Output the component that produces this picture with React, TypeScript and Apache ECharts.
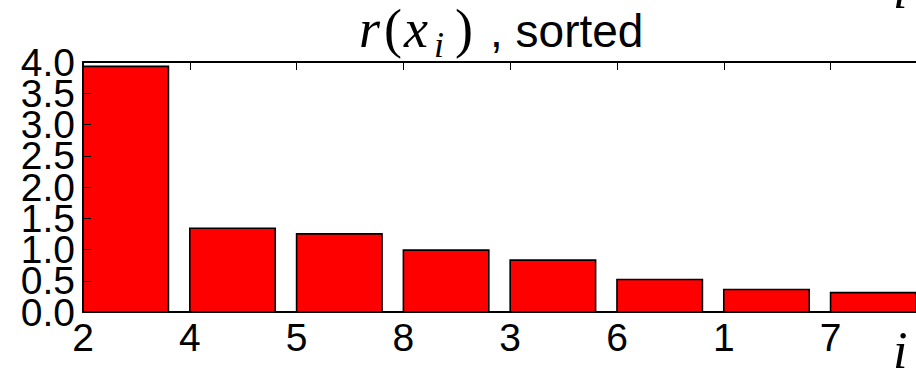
import React, { useEffect, useRef } from "react";
import * as echarts from "echarts";

// Sorted ratio values r(x_i), in the order of the categories
const categories = ["2", "4", "5", "8", "3", "6", "1", "7"];
const values = [3.93, 1.34, 1.25, 0.99, 0.83, 0.52, 0.36, 0.31];
const yTickLabels = ["0.0", "0.5", "1.0", "1.5", "2.0", "2.5", "3.0", "3.5", "4.0"];

const BAR_WIDTH = 0.8;
const Y_MIN = 0;
const Y_MAX = 4;
const Y_STEP = 0.5;
const SANS = "Liberation Sans, Arial, sans-serif";
const SERIF = "Liberation Serif, Times New Roman, serif";

export default function App() {
  const ref = useRef<HTMLDivElement>(null);

  useEffect(() => {
    document.body.style.margin = "0";
    if (!ref.current) return;
    const chart = echarts.init(ref.current, undefined, { renderer: "svg" });

    const axisLine = { show: true, lineStyle: { color: "#000", width: 2 } };
    const axisTick = { show: true, inside: true, length: 8, lineStyle: { color: "#000", width: 1 } };
    const gridBox = { left: 83, top: 62, right: -10, bottom: 57 };
    const xMax = categories.length - 1 + BAR_WIDTH;
    const yLabel = (v: number) => yTickLabels[Math.round((v - Y_MIN) / Y_STEP)] ?? "";

    const yLabelStyle = {
      show: true,
      margin: 8,
      color: "#000",
      fontSize: 39,
      fontFamily: SANS,
    };

    const mathText = (text: string, x: number, y: number, size: number, italic: boolean) => ({
      type: "text",
      x,
      y,
      silent: true,
      style: {
        text,
        fill: "#000",
        font: `${italic ? "italic " : ""}${size}px ${SERIF}`,
        align: "left",
        verticalAlign: "middle",
      },
    });

    chart.setOption({
      animation: false,
      backgroundColor: "#fff",
      grid: [gridBox, gridBox],
      xAxis: [
        {
          type: "value",
          gridIndex: 0,
          position: "bottom",
          min: 0,
          max: xMax,
          interval: 1,
          axisLine,
          axisTick,
          splitLine: { show: false },
          axisLabel: {
            show: true,
            margin: 6,
            color: "#000",
            fontSize: 39,
            fontFamily: SANS,
            showMaxLabel: false,
            formatter: (v: number) => (Number.isInteger(v) && categories[v] !== undefined ? categories[v] : ""),
          },
        },
        {
          type: "value",
          gridIndex: 0,
          position: "top",
          min: 0,
          max: xMax,
          interval: 1,
          axisLine,
          axisTick,
          splitLine: { show: false },
          axisLabel: { show: false },
        },
        {
          type: "value",
          gridIndex: 1,
          show: false,
          min: 0,
          max: xMax,
        },
      ],
      yAxis: [
        {
          type: "value",
          gridIndex: 0,
          min: Y_MIN,
          max: Y_MAX,
          interval: Y_STEP,
          z: 5,
          axisLine,
          axisTick,
          splitLine: { show: false },
          axisLabel: {
            ...yLabelStyle,
            showMinLabel: false,
            showMaxLabel: false,
            formatter: yLabel,
          },
        },
        {
          // end labels (0.0 and 4.0) drawn on an identical overlay axis
          type: "value",
          gridIndex: 1,
          min: Y_MIN,
          max: Y_MAX,
          interval: Y_STEP,
          z: 5,
          axisLine: { show: false },
          axisTick: { show: false },
          splitLine: { show: false },
          axisLabel: {
            ...yLabelStyle,
            showMinLabel: true,
            showMaxLabel: true,
            formatter: (v: number) => (v === Y_MIN || v === Y_MAX ? yLabel(v) : ""),
          },
        },
      ],
      series: [
        {
          type: "custom",
          xAxisIndex: 0,
          yAxisIndex: 0,
          z: 2,
          clip: true,
          encode: { x: 0, y: 1 },
          data: values.map((v, i) => [i, v]),
          renderItem: (params: any, api: any) => {
            const idx = api.value(0);
            const val = api.value(1);
            const p0 = api.coord([idx, 0]);
            const p1 = api.coord([idx + BAR_WIDTH, val]);
            return {
              type: "rect",
              shape: { x: p0[0], y: p1[1], width: p1[0] - p0[0], height: p0[1] - p1[1] },
              style: { fill: "#ff0000", stroke: "#000", lineWidth: 1.6 },
            };
          },
        },
      ],
      graphic: [
        mathText("r", 359, 29, 54, true),
        mathText("(", 384, 29, 54, false),
        mathText("x", 404, 29, 54, true),
        mathText("i", 434, 45, 36, true),
        mathText(")", 455, 29, 54, false),
        {
          type: "text",
          x: 490,
          y: 31,
          silent: true,
          style: {
            text: ", sorted",
            fill: "#000",
            font: `46px ${SANS}`,
            align: "left",
            verticalAlign: "middle",
          },
        },
        mathText("i", 893, 350, 52, true),
        mathText("i", 893, -10, 52, true),
      ],
    });

    return () => chart.dispose();
  }, []);

  return <div ref={ref} style={{ width: 916, height: 369 }} />;
}
